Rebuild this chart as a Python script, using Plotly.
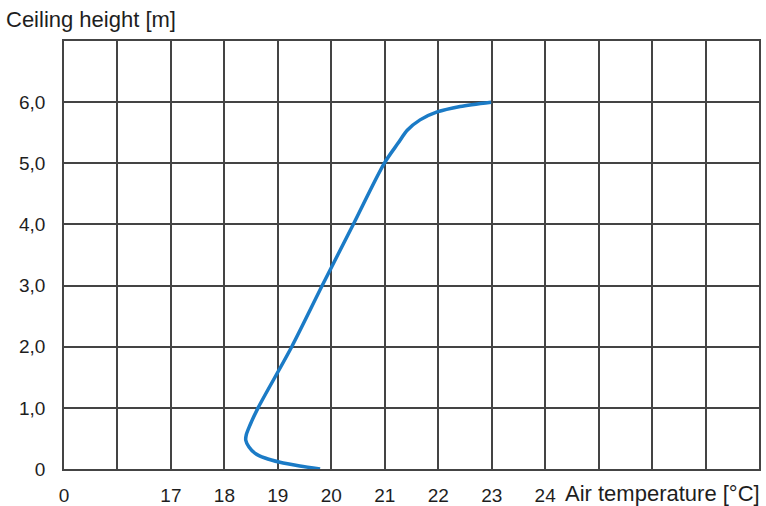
import plotly.graph_objects as go

# Data
temperature = [19.79, 19.41, 19.04, 18.76, 18.57, 18.46, 18.40, 18.41, 18.48, 18.63, 19.26,
               19.83, 20.41, 20.99, 21.25, 21.42, 21.66, 21.98, 22.41, 22.99]
height = [0.0, 0.05, 0.11, 0.18, 0.26, 0.36, 0.47, 0.56, 0.72, 1.0, 2.0,
          3.0, 4.0, 5.0, 5.33, 5.54, 5.71, 5.84, 5.93, 6.0]

x_tickvals = list(range(15, 29))
x_ticktext = ["0", "", "17", "18", "19", "20", "21", "22", "23", "24", "", "", "", ""]
y_tickvals = [0, 1, 2, 3, 4, 5, 6, 7]
y_ticktext = ["0", "1,0", "2,0", "3,0", "4,0", "5,0", "6,0", ""]

FONT = "Liberation Sans, Arial, Helvetica, sans-serif"
GRID = "#444444"
TXT = "#1e1e1e"

fig = go.Figure()
fig.add_trace(go.Scatter(
    x=temperature, y=height, mode="lines",
    line=dict(color="#1b7bc6", width=3.5, shape="spline", smoothing=0.8),
    hoverinfo="skip", showlegend=False,
))

fig.update_layout(
    width=766, height=506,
    margin=dict(l=64, r=7, t=41, b=37, autoexpand=False),
    paper_bgcolor="white", plot_bgcolor="white",
    font=dict(family=FONT, size=19, color=TXT),
    xaxis=dict(
        range=[15, 28], tickvals=x_tickvals, ticktext=x_ticktext,
        showgrid=True, gridcolor=GRID, gridwidth=1.6,
        showline=True, linecolor=GRID, linewidth=1.6, mirror=True,
        zeroline=False, ticks="", ticklabelstandoff=8, automargin=False,
        tickfont=dict(family=FONT, size=19, color=TXT),
    ),
    yaxis=dict(
        range=[0, 7], tickvals=y_tickvals, ticktext=y_ticktext,
        showgrid=True, gridcolor=GRID, gridwidth=1.6,
        showline=True, linecolor=GRID, linewidth=1.6, mirror=True,
        zeroline=False, ticks="", ticklabelstandoff=13, automargin=False,
        tickfont=dict(family=FONT, size=19, color=TXT),
    ),
    annotations=[
        dict(text="Ceiling height [m]", xref="paper", yref="paper",
             x=-60/695, y=1 + 22/428, xanchor="left", yanchor="middle",
             showarrow=False, font=dict(family=FONT, size=22, color=TXT)),
        dict(text="Air temperature [°C]", xref="paper", yref="paper",
             x=1.0 + 3/695, y=-24/428, xanchor="right", yanchor="middle",
             showarrow=False, font=dict(family=FONT, size=22, color=TXT)),
    ],
)

fig.write_html("out.html")
